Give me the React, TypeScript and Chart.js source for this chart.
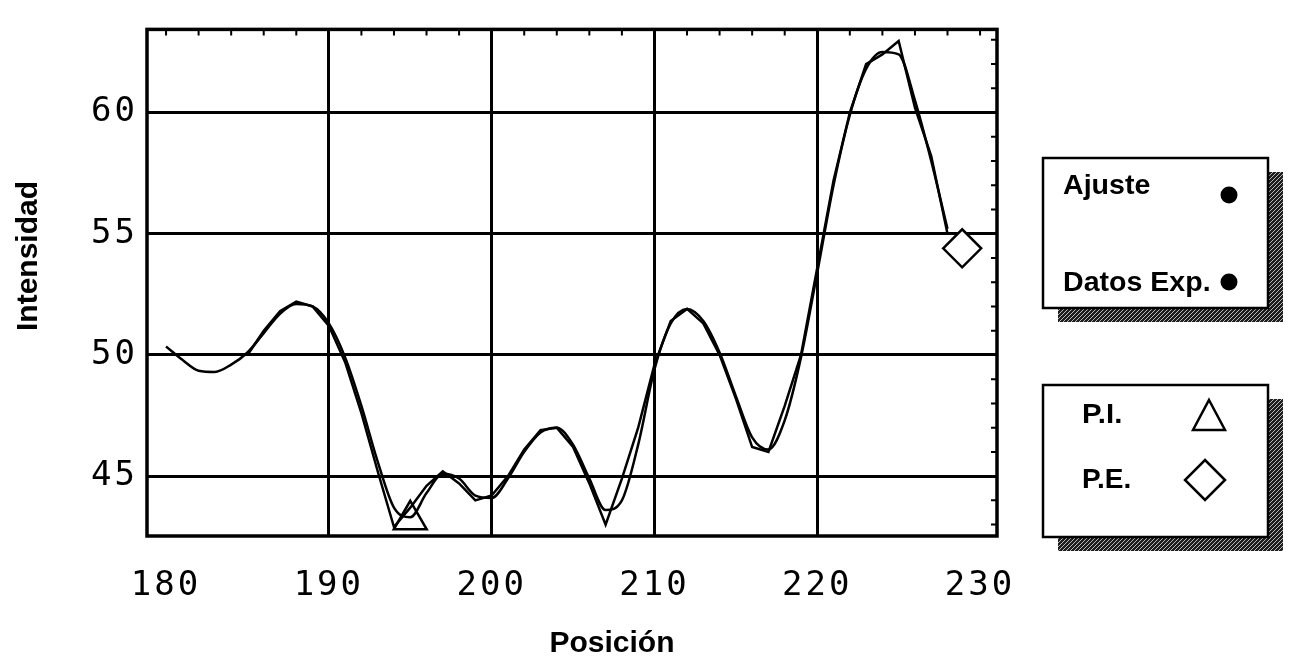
import React, { useEffect, useRef } from "react";
import { Chart, registerables } from "chart.js";

Chart.register(...registerables);

// ---- data ----
const posAjuste = [180, 181, 182, 183, 184, 185, 186, 187, 188, 189, 190, 191, 192, 193, 194, 195, 196, 197, 198, 199, 200, 201, 202, 203, 204, 205, 206, 207, 208, 209, 210, 211, 212, 213, 214, 215, 216, 217, 218, 219, 220, 221, 222, 223, 224, 225, 226, 227, 228];
const ajuste = [50.35, 49.8, 49.35, 49.3, 49.6, 50.1, 50.9, 51.7, 52.1, 52.0, 51.3, 49.9, 47.9, 45.6, 43.7, 43.3, 44.3, 45.1, 44.9, 44.2, 44.1, 44.9, 46.0, 46.8, 47.0, 46.3, 44.9, 43.6, 44.0, 46.3, 49.4, 51.3, 51.9, 51.4, 50.1, 48.3, 46.6, 46.1, 47.3, 49.9, 53.4, 57.0, 59.9, 61.8, 62.5, 62.4, 60.5, 58.0, 55.2];

const posDatos = [185, 186, 187, 188, 189, 190, 191, 192, 193, 194, 195, 196, 197, 198, 199, 200, 201, 202, 203, 204, 205, 206, 207, 208, 209, 210, 211, 212, 213, 214, 215, 216, 217, 218, 219, 220, 221, 222, 223, 224, 225, 226, 227, 228];
const datos = [50.0, 51.0, 51.8, 52.2, 52.0, 51.2, 49.7, 47.6, 45.2, 42.9, 43.7, 44.6, 45.2, 44.7, 44.0, 44.2, 45.0, 46.1, 46.9, 47.0, 46.2, 44.7, 43.0, 44.9, 47.0, 49.6, 51.4, 51.9, 51.3, 50.0, 48.2, 46.2, 46.0, 47.9, 50.0, 53.6, 57.2, 60.0, 62.0, 62.4, 62.95, 60.2, 58.2, 55.0];

const piPos = [195.0];
const piVal = [43.2];
const pePos = [228.9];
const peVal = [54.4];

const xTicks = [180, 190, 200, 210, 220, 230];
const yTicks = [45, 50, 55, 60];
const xRange = [178.83, 231.04];
const yRange = [42.53, 63.43];

const seriesLabels = ["Ajuste", "Datos Exp.", "P.I.", "P.E."];
const xTitle = "Posición";
const yTitle = "Intensidad";

const TITLE_FONT = 'bold 30px "Liberation Sans", Arial, sans-serif';
const LEGEND_FONT = 'bold 28px "Liberation Sans", Arial, sans-serif';

function stretchedText(ctx: CanvasRenderingContext2D, text: string, x: number, y: number, sx: number) {
  ctx.save();
  ctx.translate(x, y);
  ctx.scale(sx, 1);
  ctx.fillText(text, 0, 0);
  ctx.restore();
}

function makePattern(ctx: CanvasRenderingContext2D) {
  const pc = document.createElement("canvas");
  pc.width = 4;
  pc.height = 4;
  const p = pc.getContext("2d")!;
  p.fillStyle = "#1e1e1e";
  p.fillRect(0, 0, 4, 4);
  p.fillStyle = "#b8b8b8";
  p.fillRect(0, 0, 1, 1);
  p.fillRect(2, 2, 1, 1);
  p.fillRect(3, 1, 1, 1);
  p.fillRect(1, 3, 1, 1);
  return ctx.createPattern(pc, "repeat");
}

function drawBox(ctx: CanvasRenderingContext2D, pattern: CanvasPattern | null, x: number, y: number, w: number, h: number) {
  ctx.fillStyle = pattern || "#555";
  ctx.fillRect(x + 15, y + 14, w, h);
  ctx.fillStyle = "#fff";
  ctx.fillRect(x, y, w, h);
  ctx.lineWidth = 2.5;
  ctx.strokeStyle = "#000";
  ctx.strokeRect(x, y, w, h);
}

const framePlugin = {
  id: "framePlugin",
  beforeDraw(chart: any) {
    chart.ctx.letterSpacing = "3px";
  },
  beforeDatasetsDraw(chart: any) {
    const ctx: CanvasRenderingContext2D = chart.ctx;
    ctx.letterSpacing = "0px";
    const { left, right, top, bottom } = chart.chartArea;
    const xs = chart.scales.x;
    const ys = chart.scales.y;
    ctx.save();
    ctx.strokeStyle = "#000";
    ctx.lineWidth = 2;
    ctx.beginPath();
    for (let v = xTicks[0]; v <= xTicks[xTicks.length - 1]; v += 2) {
      const px = xs.getPixelForValue(v);
      ctx.moveTo(px, top);
      ctx.lineTo(px, top + 6);
    }
    for (let v = Math.ceil(yRange[0]); v <= Math.floor(yRange[1]); v += 1) {
      const py = ys.getPixelForValue(v);
      ctx.moveTo(right, py);
      ctx.lineTo(right - 6, py);
    }
    ctx.stroke();
    ctx.lineWidth = 3.5;
    ctx.strokeRect(left, top, right - left, bottom - top);
    ctx.restore();
  },
  afterDraw(chart: any) {
    const ctx: CanvasRenderingContext2D = chart.ctx;
    ctx.save();
    ctx.letterSpacing = "0px";
    ctx.fillStyle = "#000";
    // axis titles
    ctx.font = TITLE_FONT;
    ctx.textAlign = "center";
    ctx.textBaseline = "alphabetic";
    ctx.fillText(xTitle, 612, 652);
    ctx.save();
    ctx.translate(37, 256);
    ctx.rotate(-Math.PI / 2);
    ctx.fillText(yTitle, 0, 0);
    ctx.restore();

    // legend boxes
    const pattern = makePattern(ctx);
    drawBox(ctx, pattern, 1043, 158, 225, 150);
    drawBox(ctx, pattern, 1043, 385, 225, 152);

    ctx.fillStyle = "#000";
    ctx.font = LEGEND_FONT;
    ctx.textAlign = "left";
    stretchedText(ctx, seriesLabels[0], 1063, 194, 1.02);
    stretchedText(ctx, seriesLabels[1], 1063, 291, 1.02);
    stretchedText(ctx, seriesLabels[2], 1082, 423, 1.05);
    stretchedText(ctx, seriesLabels[3], 1082, 488, 1.0);

    // dots
    ctx.beginPath();
    ctx.arc(1229, 195, 8.5, 0, Math.PI * 2);
    ctx.fill();
    ctx.beginPath();
    ctx.arc(1229, 282, 8.5, 0, Math.PI * 2);
    ctx.fill();

    // triangle
    ctx.lineWidth = 2.5;
    ctx.strokeStyle = "#000";
    ctx.beginPath();
    ctx.moveTo(1209, 400);
    ctx.lineTo(1225, 430);
    ctx.lineTo(1193, 430);
    ctx.closePath();
    ctx.stroke();
    // diamond
    ctx.beginPath();
    ctx.moveTo(1205, 460);
    ctx.lineTo(1225, 480);
    ctx.lineTo(1205, 500);
    ctx.lineTo(1185, 480);
    ctx.closePath();
    ctx.stroke();
    ctx.restore();
  },
};

export default function App() {
  const ref = useRef<HTMLCanvasElement>(null);

  useEffect(() => {
    const canvas = ref.current!;
    const tickFont = { family: '"DejaVu Sans Mono", "Liberation Mono", monospace', size: 34 };
    const chart = new Chart(canvas, {
      type: "line",
      data: {
        datasets: [
          {
            label: seriesLabels[0],
            data: posAjuste.map((x, i) => ({ x, y: ajuste[i] })),
            borderColor: "#000",
            borderWidth: 2.5,
            pointRadius: 0,
            cubicInterpolationMode: "monotone",
            fill: false,
          },
          {
            label: seriesLabels[1],
            data: posDatos.map((x, i) => ({ x, y: datos[i] })),
            borderColor: "#000",
            borderWidth: 2.5,
            pointRadius: 0,
            tension: 0,
            fill: false,
          },
          {
            label: seriesLabels[2],
            data: piPos.map((x, i) => ({ x, y: piVal[i] })),
            showLine: false,
            pointStyle: "triangle",
            pointRadius: 19,
            pointBorderWidth: 2.5,
            pointBackgroundColor: "#fff",
            pointBorderColor: "#000",
          },
          {
            label: seriesLabels[3],
            data: pePos.map((x, i) => ({ x, y: peVal[i] })),
            showLine: false,
            pointStyle: "rectRot",
            pointRadius: 19,
            pointBorderWidth: 2.5,
            pointBackgroundColor: "#fff",
            pointBorderColor: "#000",
          },
        ],
      } as any,
      options: {
        responsive: false,
        animation: false,
        devicePixelRatio: 1,
        layout: { padding: { left: 0, top: 12, right: 295, bottom: 0 } },
        plugins: { legend: { display: false }, tooltip: { enabled: false } },
        scales: {
          x: {
            type: "linear",
            min: xRange[0],
            max: xRange[1],
            afterBuildTicks: (s: any) => {
              s.ticks = xTicks.map((v) => ({ value: v }));
            },
            afterFit: (s: any) => {
              s.height = 121;
            },
            grid: {
              color: (c: any) =>
                c.tick && (c.tick.value === xTicks[0] || c.tick.value === xTicks[xTicks.length - 1])
                  ? "rgba(0,0,0,0)"
                  : "#000",
              lineWidth: 3,
              drawTicks: false,
            },
            border: { display: false },
            ticks: { font: tickFont, color: "#000", padding: 30, maxRotation: 0, autoSkip: false },
          },
          y: {
            type: "linear",
            min: yRange[0],
            max: yRange[1],
            afterBuildTicks: (s: any) => {
              s.ticks = yTicks.map((v) => ({ value: v }));
            },
            afterFit: (s: any) => {
              s.width = 147;
            },
            grid: { color: "#000", lineWidth: 3, drawTicks: false },
            border: { display: false },
            ticks: { font: tickFont, color: "#000", padding: 9, autoSkip: false },
          },
        },
      } as any,
      plugins: [framePlugin],
    });
    return () => chart.destroy();
  }, []);

  return (
    <div style={{ position: "fixed", left: 0, top: 0, width: 1292, height: 657, background: "#fff" }}>
      <canvas ref={ref} width={1292} height={657} style={{ display: "block", width: 1292, height: 657 }} />
    </div>
  );
}
